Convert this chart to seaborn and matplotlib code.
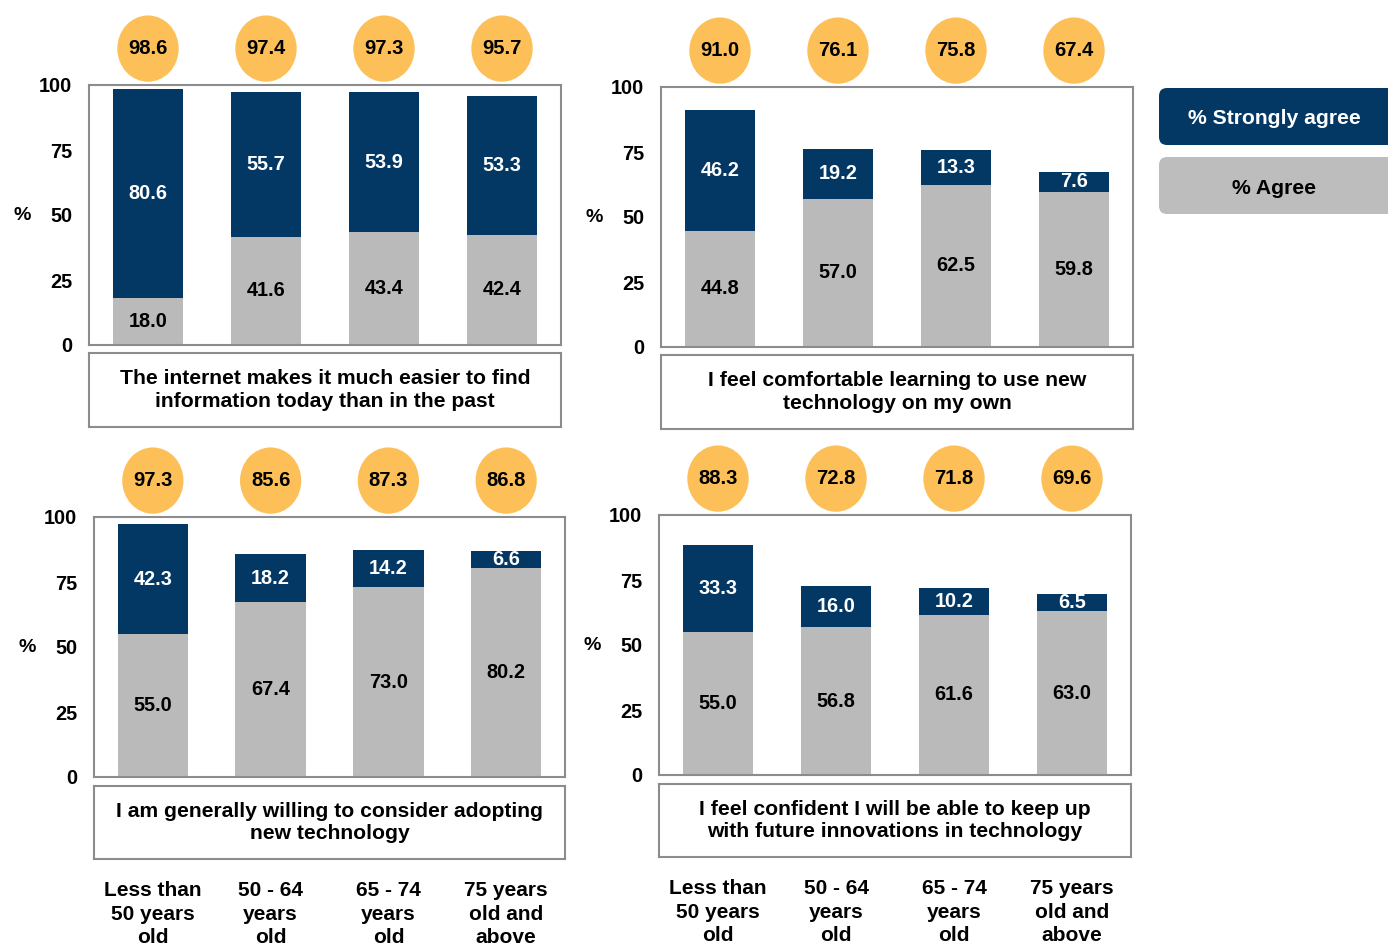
import matplotlib
matplotlib.use("Agg")
import matplotlib.pyplot as plt
import matplotlib.transforms as mtransforms
from matplotlib.patches import Ellipse, FancyBboxPatch
import pandas as pd
import seaborn as sns

# ---- data -------------------------------------------------------------
age_groups = [
    "Less than\n50 years\nold",
    "50 - 64\nyears\nold",
    "65 - 74\nyears\nold",
    "75 years\nold and\nabove",
]

statements = [
    "The internet makes it much easier to find\ninformation today than in the past",
    "I feel comfortable learning to use new\ntechnology on my own",
    "I am generally willing to consider adopting\nnew technology",
    "I feel confident I will be able to keep up\nwith future innovations in technology",
]

agree_internet = [18.0, 41.6, 43.4, 42.4]
strong_internet = [80.6, 55.7, 53.9, 53.3]
total_internet = [98.6, 97.4, 97.3, 95.7]

agree_learning = [44.8, 57.0, 62.5, 59.8]
strong_learning = [46.2, 19.2, 13.3, 7.6]
total_learning = [91.0, 76.1, 75.8, 67.4]

agree_adopting = [55.0, 67.4, 73.0, 80.2]
strong_adopting = [42.3, 18.2, 14.2, 6.6]
total_adopting = [97.3, 85.6, 87.3, 86.8]

agree_innovation = [55.0, 56.8, 61.6, 63.0]
strong_innovation = [33.3, 16.0, 10.2, 6.5]
total_innovation = [88.3, 72.8, 71.8, 69.6]

legend_labels = ["% Strongly agree", "% Agree"]

# ---- style ------------------------------------------------------------
NAVY = "#033764"
GREY = "#BABABA"
ORANGE = "#FDBF57"
FRAME = "#8C8C8C"
INK = "#000000"

sns.set_style("white")
plt.rcParams["font.family"] = ["Liberation Sans", "DejaVu Sans"]
plt.rcParams["font.weight"] = "bold"
plt.rcParams["text.color"] = INK
plt.rcParams["ytick.color"] = INK

W, H = 1388, 948
fig = plt.figure(figsize=(W / 100, H / 100), dpi=100)


def px_rect(x0, y0, x1, y1):
    """Figure-fraction rectangle from pixel box (top-left origin)."""
    return [x0 / W, 1 - y1 / H, (x1 - x0) / W, (y1 - y0) / H]


panels = [
    (agree_internet, strong_internet, total_internet, statements[0],
     (89, 85, 561, 345), (89, 353, 561, 427), False),
    (agree_learning, strong_learning, total_learning, statements[1],
     (661, 87, 1133, 347), (661, 355, 1133, 429), False),
    (agree_adopting, strong_adopting, total_adopting, statements[2],
     (94, 517, 565, 777), (94, 786, 565, 859), True),
    (agree_innovation, strong_innovation, total_innovation, statements[3],
     (659, 515, 1131, 775), (659, 784, 1131, 857), True),
]

for agree, strong, total, title, box, tbox, show_groups in panels:
    ax = fig.add_axes(px_rect(*box))
    df = pd.DataFrame({
        "group": age_groups,
        "agree": agree,
        "stacked": [a + s for a, s in zip(agree, strong)],
        "strong": strong,
        "total": total,
    })

    # full stack (agree + strongly agree) in navy, agree part overlaid in grey
    sns.barplot(data=df, x="group", y="stacked", color=NAVY, saturation=1,
                width=0.6, errorbar=None, ax=ax, linewidth=0)
    sns.barplot(data=df, x="group", y="agree", color=GREY, saturation=1,
                width=0.6, errorbar=None, ax=ax, linewidth=0)

    ax.set_xlim(-0.5, 3.5)
    ax.set_ylim(0, 100)
    ax.set_yticks([0, 25, 50, 75, 100])
    ax.set_yticklabels(["0", "25", "50", "75", "100"], fontsize=14.3,
                       fontweight="bold")
    ax.tick_params(axis="y", length=0, pad=12)
    ax.set_xticks([])
    ax.set_xlabel("")
    ax.set_ylabel("")
    for sp in ax.spines.values():
        sp.set_visible(True)
        sp.set_color(FRAME)
        sp.set_linewidth(1.5)

    ax.text(-0.142, 0.5, "%", transform=ax.transAxes, ha="center",
            va="center", fontsize=14, fontweight="bold")

    for i, row in df.iterrows():
        ax.text(i, row["agree"] / 2, f"{row['agree']:.1f}", ha="center",
                va="center", fontsize=14.3, fontweight="bold", color=INK)
        ax.text(i, row["agree"] + row["strong"] / 2, f"{row['strong']:.1f}",
                ha="center", va="center", fontsize=14.3, fontweight="bold",
                color="white")
        # total score bubble above each bar
        ax.add_patch(Ellipse((i, 114), 0.52, 25.5, facecolor=ORANGE,
                             edgecolor="none", clip_on=False))
        ax.text(i, 114, f"{row['total']:.1f}", ha="center", va="center",
                fontsize=14.5, fontweight="bold", color=INK, clip_on=False)

    # statement caption box
    tax = fig.add_axes(px_rect(*tbox))
    tax.set_xticks([])
    tax.set_yticks([])
    for sp in tax.spines.values():
        sp.set_color(FRAME)
        sp.set_linewidth(1.5)
    tax.text(0.5, 0.5, title, ha="center", va="center", fontsize=15.2,
             fontweight="bold", linespacing=1.24, transform=tax.transAxes)

    if show_groups:
        trans = mtransforms.blended_transform_factory(ax.transData,
                                                      fig.transFigure)
        ytop = 1 - (tbox[3] + 22) / H
        for i, g in enumerate(age_groups):
            ax.text(i, ytop, g, transform=trans, ha="center", va="top",
                    fontsize=15, fontweight="bold", linespacing=1.3,
                    clip_on=False)

# ---- legend -------------------------------------------------------------
lax = fig.add_axes(px_rect(1159, 88, 1388, 214))
lax.set_xlim(0, 229)
lax.set_ylim(0, 126)
lax.axis("off")
lax.add_patch(FancyBboxPatch((0, 69), 236, 57,
                             boxstyle="round,pad=0,rounding_size=8",
                             facecolor=NAVY, edgecolor="none", clip_on=False))
lax.add_patch(FancyBboxPatch((0, 0), 236, 57,
                             boxstyle="round,pad=0,rounding_size=8",
                             facecolor="#BDBDBD", edgecolor="none",
                             clip_on=False))
lax.text(115, 96, legend_labels[0], ha="center", va="center", fontsize=15.2,
         fontweight="bold", color="white")
lax.text(115, 26, legend_labels[1], ha="center", va="center", fontsize=15.2,
         fontweight="bold", color=INK)

fig.savefig("out.png", dpi=100)
